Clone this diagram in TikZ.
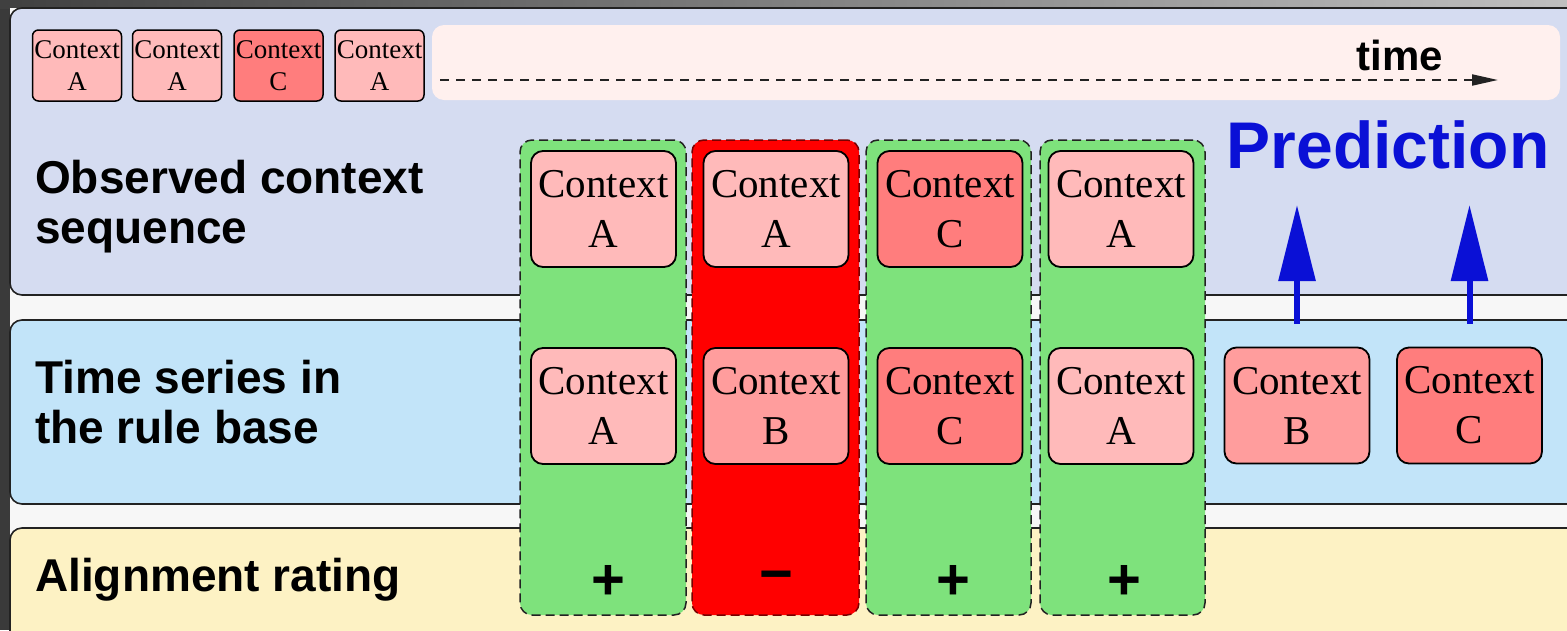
\documentclass[tikz,border=0pt]{standalone}
\usepackage{fontspec}
\setmainfont{Liberation Serif}
\newfontfamily\hv{Liberation Sans}
\usetikzlibrary{arrows.meta}
\definecolor{bgdark}{HTML}{3A3A3A}
\definecolor{lav}{HTML}{D5DCF1}
\definecolor{sky}{HTML}{C2E4F9}
\definecolor{cream}{HTML}{FDF2C4}
\definecolor{grn}{HTML}{7EE27C}
\definecolor{ctxA}{HTML}{FFBABA}
\definecolor{ctxB}{HTML}{FF9D9D}
\definecolor{ctxC}{HTML}{FF7D7D}
\definecolor{tboxc}{HTML}{FFF0EE}
\definecolor{predblue}{HTML}{0A10D6}
\definecolor{edge}{HTML}{222222}
\begin{document}
\begin{tikzpicture}[x=1pt,y=-1pt,
  panel/.style={draw=edge, line width=1.6pt, rounded corners=12pt},
  ctx/.style={draw=black, line width=1.8pt, rounded corners=12pt, minimum width=145pt, minimum height=116pt, inner sep=0pt, align=center, font=\fontsize{41}{50}\selectfont},
  ctxs/.style={draw=black, line width=1.5pt, rounded corners=6pt, minimum width=89pt, minimum height=71pt, inner sep=0pt, align=center, font=\fontsize{27}{32}\selectfont},
  col/.style={draw=edge, dash pattern=on 9pt off 5pt, line width=1.5pt, rounded corners=12pt, minimum height=475pt, inner sep=0pt},
  lbl/.style={font=\hv\bfseries\fontsize{46}{50}\selectfont, anchor=base west, inner sep=0pt},
  sign/.style={font=\hv\bfseries\fontsize{58}{60}\selectfont, inner sep=0pt},
  predarrow/.style={draw=predblue, line width=6pt, -{Triangle[length=76pt,width=36pt]}},
  timearrow/.style={draw=edge, line width=2pt, dash pattern=on 9pt off 7pt, -{Triangle[length=26pt,width=11pt]}}
]
\useasboundingbox (0,0) rectangle (1567,630);
\clip (0,0) rectangle (1567,630);
% background (screen)
\fill[bgdark] (0,0) rectangle (1567,630);
\shade[left color=black!75, right color=black!25] (0,0) rectangle (1567,8);
\fill[white!97!black] (10,8) rectangle (1567,630);
% panels
\draw[panel, fill=lav] (1590,8) -- (10,8) -- (10,295) -- (1590,295);
\draw[panel, fill=sky] (1590,320) -- (10,320) -- (10,504) -- (1590,504);
\draw[panel, fill=cream] (1590,528) -- (10,528) -- (10,660) -- (1590,660);
% time line box
\node[fill=tboxc, rounded corners=12pt, minimum width=1128pt, minimum height=75pt, inner sep=0pt] (tbox) at (996,62.5) {};
\coordinate (tstart) at (440,80);
\coordinate (tend) at (1498,80);
\draw[timearrow] (tstart) -- (tend);
\node[font=\hv\bfseries\fontsize{42}{46}\selectfont, anchor=base, inner sep=0pt] (time) at (1400,70) {time};
% small sequence
\node[ctxs, fill=ctxA] (s1) at (77,65.5) {Context\\A};
\node[ctxs, fill=ctxA] (s2) at (177,65.5) {Context\\A};
\node[ctxs, fill=ctxC] (s3) at (278.5,65.5) {Context\\C};
\node[ctxs, fill=ctxA] (s4) at (379.5,65.5) {Context\\A};
% labels
\node[lbl] (l1a) at (35,193) {Observed context};
\node[lbl] (l1b) at (35,243) {sequence};
\node[lbl] (l2a) at (35,393) {Time series in};
\node[lbl] (l2b) at (35,443) {the rule base};
\node[lbl] (l3) at (35,591) {Alignment rating};
% columns
\node[col, fill=grn, minimum width=166pt] (c1) at (603,377.5) {};
\node[col, fill=red, draw={rgb,255:red,120;green,0;blue,0}, minimum width=167pt] (c2) at (775.5,377.5) {};
\node[col, fill=grn, minimum width=165pt] (c3) at (948.5,377.5) {};
\node[col, fill=grn, minimum width=165pt] (c4) at (1122.5,377.5) {};
% observed row
\node[ctx, fill=ctxA] (o1) at (603.5,209) {Context\\A};
\node[ctx, fill=ctxA] (o2) at (776,209) {Context\\A};
\node[ctx, fill=ctxC] (o3) at (950,209) {Context\\C};
\node[ctx, fill=ctxA] (o4) at (1121,209) {Context\\A};
% rule base row
\node[ctx, fill=ctxA] (r1) at (603.5,406) {Context\\A};
\node[ctx, fill=ctxB] (r2) at (776,406) {Context\\B};
\node[ctx, fill=ctxC] (r3) at (950,406) {Context\\C};
\node[ctx, fill=ctxA] (r4) at (1121,406) {Context\\A};
\node[ctx, fill=ctxB] (pB) at (1297,405.5) {Context\\B};
\node[ctx, fill=ctxC] (pC) at (1469.5,405.5) {Context\\C};
% ratings
\node[sign] (g1) at (608,582) {+};
\node[sign] (g2) at (776,582) {−};
\node[sign] (g3) at (953,582) {+};
\node[sign] (g4) at (1124,582) {+};
% prediction
\node[font=\hv\bfseries\fontsize{66}{70}\selectfont, text=predblue, anchor=base, inner sep=0pt] (pred) at (1388,168) {Prediction};
\coordinate (pBtip) at (1297,205);
\coordinate (pCtip) at (1469.5,205);
\draw[predarrow, shorten <=23pt] (pB.north) -- (pBtip);
\draw[predarrow, shorten <=23pt] (pC.north) -- (pCtip);
\end{tikzpicture}
\end{document}
